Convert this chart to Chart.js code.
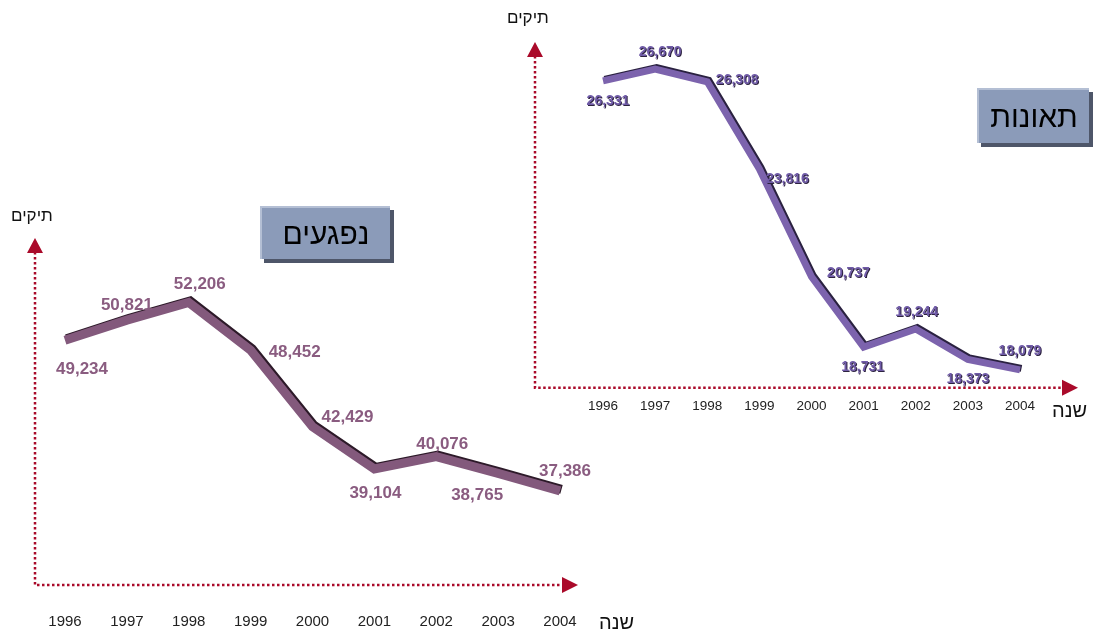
<!DOCTYPE html>
<html lang="he">
<head>
<meta charset="utf-8">
<script src="https://cdn.jsdelivr.net/npm/chart.js@4.4.0/dist/chart.umd.min.js"></script>
<style>
  html, body { margin:0; padding:0; background:#fff; }
  body { width:1097px; height:634px; position:relative; overflow:hidden; font-family:'Liberation Sans', Arial, 'DejaVu Sans', sans-serif; }
  canvas { position:absolute; }
  .lbl { position:absolute; direction:rtl; color:#111; white-space:nowrap; line-height:1; }
  .box { position:absolute; background:#8b9bb9; box-shadow:4px 4px 0 #4e5669; border-top:2px solid #b4bfd4; border-left:2px solid #b4bfd4; box-sizing:border-box;
         display:flex; align-items:center; justify-content:center; direction:rtl; font-size:30px; color:#000; }
</style>
</head>
<body>
<canvas id="c1" width="640" height="483" style="left:0;top:180px"></canvas>
<canvas id="c2" width="577" height="430" style="left:520px;top:0"></canvas>

<div class="box" style="left:260px;top:206px;width:130px;height:53px;">נפגעים</div>
<div class="box" style="left:977px;top:88px;width:112px;height:55px;">תאונות</div>

<div class="lbl" style="left:11px;top:207px;font-size:17px;">תיקים</div>
<div class="lbl" style="left:599px;top:612px;font-size:20px;">שנה</div>
<div class="lbl" style="left:507px;top:9px;font-size:17px;">תיקים</div>
<div class="lbl" style="left:1052px;top:400px;font-size:20px;">שנה</div>

<script>
// ---- data ----
const years = ['1996','1997','1998','1999','2000','2001','2002','2003','2004'];
const casualties = [49234, 50821, 52206, 48452, 42429, 39104, 40076, 38765, 37386];
const accidents  = [26331, 26670, 26308, 23816, 20737, 18731, 19244, 18373, 18079];

// ---- label placement (style) ----
const casualtyLabelOffsets = [[17,29],[0,-15],[11,-18],[44,2],[35,-9],[1,24],[6,-12],[-21,22],[5,-20]];
const accidentLabelOffsets = [[5,20],[5,-17],[30,-2],[28,10],[37,-4],[-1,20],[1,-17],[0,20],[0,-19]];

const fmt = v => v.toLocaleString('en-US');

const ribbonShadow = {
  id:'ribbonShadow',
  beforeDatasetDraw(chart){
    const o = chart.options.plugins.ribbonShadow;
    const ctx = chart.ctx; ctx.save();
    ctx.shadowColor = o.color; ctx.shadowOffsetX = o.dx; ctx.shadowOffsetY = o.dy; ctx.shadowBlur = 0;
  },
  afterDatasetDraw(chart){ chart.ctx.restore(); }
};

const pointLabels = {
  id:'pointLabels',
  afterDatasetsDraw(chart){
    const o = chart.options.plugins.pointLabels;
    const ctx = chart.ctx;
    const meta = chart.getDatasetMeta(0);
    const data = chart.data.datasets[0].data;
    ctx.save();
    ctx.font = o.font;
    ctx.textAlign = 'center'; ctx.textBaseline = 'middle';
    meta.data.forEach((pt, i) => {
      const [dx, dy] = o.offsets[i];
      const t = fmt(data[i]);
      if (o.shadow) { ctx.fillStyle = o.shadow; ctx.fillText(t, pt.x + dx + 1, pt.y + dy + 1); }
      ctx.fillStyle = o.color;
      ctx.fillText(t, pt.x + dx, pt.y + dy);
    });
    ctx.restore();
  }
};

const arrows = {
  id:'arrows',
  beforeDatasetsDraw(chart){
    const o = chart.options.plugins.arrows;
    const ctx = chart.ctx;
    const yb = chart.chartArea.bottom;
    ctx.save();
    ctx.strokeStyle = o.color; ctx.lineWidth = 2.5; ctx.setLineDash([2.5, 2.5]);
    ctx.beginPath();
    ctx.moveTo(o.x, o.top + 14); ctx.lineTo(o.x, yb); ctx.lineTo(o.right - 14, yb);
    ctx.stroke();
    ctx.setLineDash([]);
    ctx.fillStyle = o.color;
    ctx.beginPath(); // up arrow
    ctx.moveTo(o.x, o.top); ctx.lineTo(o.x - 8, o.top + 15); ctx.lineTo(o.x + 8, o.top + 15); ctx.closePath(); ctx.fill();
    ctx.beginPath(); // right arrow
    ctx.moveTo(o.right, yb); ctx.lineTo(o.right - 16, yb - 8); ctx.lineTo(o.right - 16, yb + 8); ctx.closePath(); ctx.fill();
    ctx.restore();
  }
};

function makeChart(id, values, cfg){
  return new Chart(document.getElementById(id), {
    type:'line',
    data:{ labels: years, datasets:[{
      data: values, borderColor: cfg.line, borderWidth: cfg.width, pointRadius:0,
      borderCapStyle:'butt', borderJoinStyle:'miter', tension:0, fill:false, clip:false
    }]},
    options:{
      responsive:false, animation:false, events:[],
      layout:{ padding: cfg.padding },
      scales:{
        x:{ type:'category', offset:false,
            grid:{ display:false, drawTicks:false }, border:{ display:false },
            ticks:{ padding: cfg.tickPad, color:'#222', font:{ family:"'Liberation Sans', Arial, sans-serif", size:cfg.tickSize }, maxRotation:0, autoSkip:false } },
        y:{ display:false, min: cfg.min, max: cfg.max }
      },
      plugins:{
        legend:{ display:false }, tooltip:{ enabled:false },
        ribbonShadow:{ color: cfg.edge, dx:1.5, dy:-1.5 },
        pointLabels:{ offsets: cfg.offsets, font: cfg.font, color: cfg.labelColor, shadow: cfg.labelShadow },
        arrows: cfg.arrows
      }
    },
    plugins:[arrows, ribbonShadow, pointLabels]
  });
}

makeChart('c1', casualties, {
  line:'#83597c', edge:'#2d1a29', width:9,
  padding:{ left:65, right:80, top:70, bottom:4 }, tickPad:28, tickSize:15,
  min:29976, max:56340,
  offsets: casualtyLabelOffsets, font:"bold 17px 'Liberation Sans', Arial, sans-serif",
  labelColor:'#8a5c80', labelShadow:null,
  arrows:{ x:35, top:58, right:578, color:'#aa0a2a' }
});

makeChart('c2', accidents, {
  line:'#7c63ad', edge:'#2a2140', width:7,
  padding:{ left:83, right:77, top:40, bottom:6 }, tickPad:10, tickSize:13.5,
  min:17566, max:27500,
  offsets: accidentLabelOffsets, font:"bold 14px 'Liberation Sans', Arial, sans-serif",
  labelColor:'#705ba8', labelShadow:'#2d2340',
  arrows:{ x:15, top:42, right:558, color:'#aa0a2a' }
});
</script>
</body>
</html>
